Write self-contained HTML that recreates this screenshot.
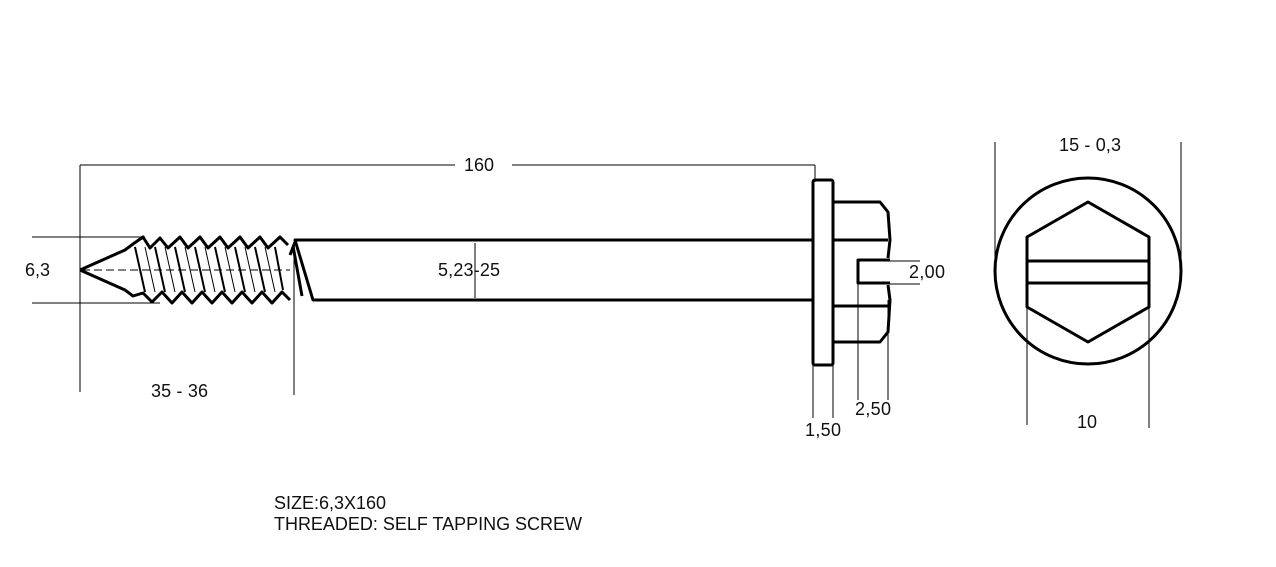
<!DOCTYPE html>
<html><head><style>body{margin:0;background:#fff}svg{display:block}text{font-family:"Liberation Sans",sans-serif;font-size:18px;fill:#111}</style></head><body>
<svg width="1276" height="567" viewBox="0 0 1276 567">
<g stroke="#000" stroke-width="1" fill="none">
<line x1="80" y1="165" x2="80" y2="392"/>
<line x1="80" y1="165" x2="455" y2="165"/>
<line x1="512" y1="165" x2="815" y2="165"/>
<line x1="815" y1="165" x2="815" y2="182"/>
<line x1="32" y1="237" x2="145" y2="237"/>
<line x1="32" y1="303" x2="160" y2="303"/>
<line x1="294" y1="245" x2="294" y2="395"/>
<line x1="475" y1="243" x2="475" y2="298"/>
<line x1="813" y1="365" x2="813" y2="418"/>
<line x1="833" y1="365" x2="833" y2="418"/>
<line x1="858" y1="283" x2="858" y2="400"/>
<line x1="888" y1="300" x2="888" y2="400"/>
<line x1="890" y1="261" x2="920" y2="261"/>
<line x1="890" y1="284" x2="920" y2="284"/>
<line x1="995" y1="142" x2="995" y2="285"/>
<line x1="1181" y1="142" x2="1181" y2="285"/>
<line x1="1027" y1="307" x2="1027" y2="425"/>
<line x1="1149" y1="307" x2="1149" y2="428"/>
<line x1="82" y1="270" x2="290" y2="270" stroke-dasharray="8,4"/>
</g>
<g stroke="#000" stroke-width="3" fill="none" stroke-linejoin="round">
<path d="M80,270 L125,250 L133,244 L143,237 L150,248 L160,238 L168,248 L180,237 L188,248 L200,237 L208,248 L220,237 L228,248 L240,237 L248,248 L260,237 L268,248 L280,237 L288,245"/>
<path d="M80,270 L125,290 L133,296 L143,293 L152,302 L162,292 L172,303 L182,292 L192,303 L202,292 L212,303 L222,292 L232,303 L242,292 L252,303 L262,292 L272,303 L282,292 L290,300"/>
<g stroke-width="2">
<path d="M135,247 L145,292 M155,247 L165,292 M175,247 L185,292 M195,247 L205,292 M215,247 L225,292 M235,247 L245,292 M255,247 L265,292 M275,247 L283,290"/>
<path d="M145,247 L155,292 M165,247 L175,292 M185,247 L195,292 M205,247 L215,292 M225,247 L235,292 M245,247 L255,292 M265,247 L275,292" stroke-width="1"/>
</g>
<path d="M813,240 L295,240 L313,300 L813,300"/>
<path d="M295,242 L290,255 M293,246 L302,296"/>
<rect x="813" y="180" width="20" height="185" rx="2"/>
<path d="M833,202 L880,202 L888,212 L890,240 L888,258 M833,240 L888,240 M833,306 L888,306 M888,285 L890,300 L888,332 L880,342 L833,342"/>
<path d="M890,260 L858,260 L858,283 L890,283"/>
<circle cx="1088" cy="271" r="93"/>
<path d="M1088,202 L1149,237 L1149,307 L1088,342 L1027,307 L1027,237 Z"/>
<line x1="1027" y1="261" x2="1149" y2="261"/>
<line x1="1027" y1="283" x2="1149" y2="283"/>
</g>
<text x="464" y="171" textLength="30">160</text>
<text x="25" y="276">6,3</text>
<text x="438" y="276" textLength="62">5,23-25</text>
<text x="151" y="397" textLength="57">35 - 36</text>
<text x="909" y="278" textLength="36">2,00</text>
<text x="855" y="415" textLength="36">2,50</text>
<text x="805" y="436" textLength="36">1,50</text>
<text x="1059" y="151" textLength="62">15 - 0,3</text>
<text x="1077" y="428">10</text>
<text x="274" y="509" textLength="112">SIZE:6,3X160</text>
<text x="274" y="530" textLength="308">THREADED: SELF TAPPING SCREW</text>
</svg>
</body></html>
